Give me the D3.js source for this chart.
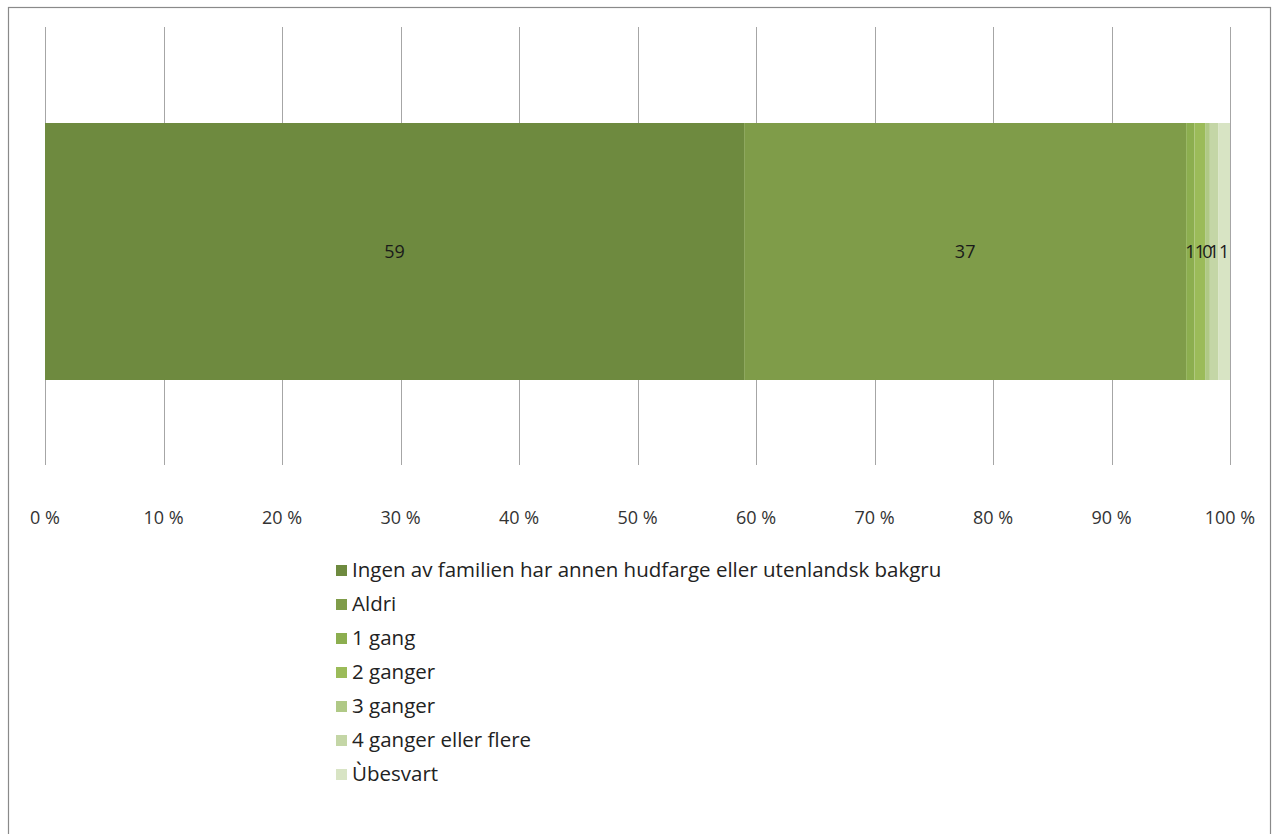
<!DOCTYPE html>
<html><head><meta charset="utf-8">
<script src="https://cdn.jsdelivr.net/npm/d3@7"></script>
<style>body{margin:0;background:#fff}svg{display:block}</style>
</head><body>
<svg id="c" width="1272" height="834"></svg>
<script>
const categories = ["Ingen av familien har annen hudfarge eller utenlandsk bakgru","Aldri","1 gang","2 ganger","3 ganger","4 ganger eller flere","Ùbesvart"];
const values = [59.0, 37.3, 0.7, 0.9, 0.4, 0.7, 1.0];
const labels = ["59","37","1","1","0","1","1"];
const colors = ["#6e8a3f","#7f9c49","#8cae4f","#9bbb59","#b0c986","#c4d6a6","#d8e4c4"];
const ticks = [0,10,20,30,40,50,60,70,80,90,100];

const svg = d3.select("#c");
const font = "'Open Sans', Lato, sans-serif";
svg.append("rect").attr("x",8.5).attr("y",7.5).attr("width",1262).attr("height",840)
  .attr("fill","#fff").attr("stroke","#8a8a8a").attr("stroke-width",1.2);

const x = d3.scaleLinear().domain([0,100]).range([45,1230]);
const gTop = 27, gBot = 465, barTop = 123, barBot = 380;

svg.append("g").selectAll("line").data(ticks).join("line")
  .attr("x1",d=>Math.round(x(d))+0.5).attr("x2",d=>Math.round(x(d))+0.5)
  .attr("y1",gTop).attr("y2",gBot).attr("stroke","#a6a6a6").attr("stroke-width",1);

let cum = 0;
const segs = values.map((v,i)=>{const s={v,i,start:cum}; cum+=v; return s;});
svg.append("g").selectAll("rect").data(segs).join("rect")
  .attr("x",d=>x(d.start)).attr("width",d=>x(d.start+d.v)-x(d.start))
  .attr("y",barTop).attr("height",barBot-barTop).attr("fill",d=>colors[d.i]);

svg.append("g").selectAll("text").data(segs).join("text")
  .attr("x",d=>x(d.start+d.v/2)).attr("y",(barTop+barBot)/2+6)
  .attr("text-anchor","middle").attr("font-family",font).attr("font-size",18)
  .attr("fill","#1a1a1a").text(d=>labels[d.i]);

svg.append("g").selectAll("text").data(ticks).join("text")
  .attr("x",d=>x(d)).attr("y",524).attr("text-anchor","middle")
  .attr("font-family",font).attr("font-size",18).attr("fill","#333")
  .text(d=>d+" %");

const lg = svg.append("g").selectAll("g").data(categories).join("g")
  .attr("transform",(d,i)=>`translate(336,${570+i*34})`);
lg.append("rect").attr("x",0).attr("y",-5).attr("width",11).attr("height",11)
  .attr("fill",(d,i)=>colors[i]);
lg.append("text").attr("x",16).attr("y",7).attr("font-family",font).attr("font-size",20.5)
  .attr("fill","#222").text(d=>d);
</script>
</body></html>
